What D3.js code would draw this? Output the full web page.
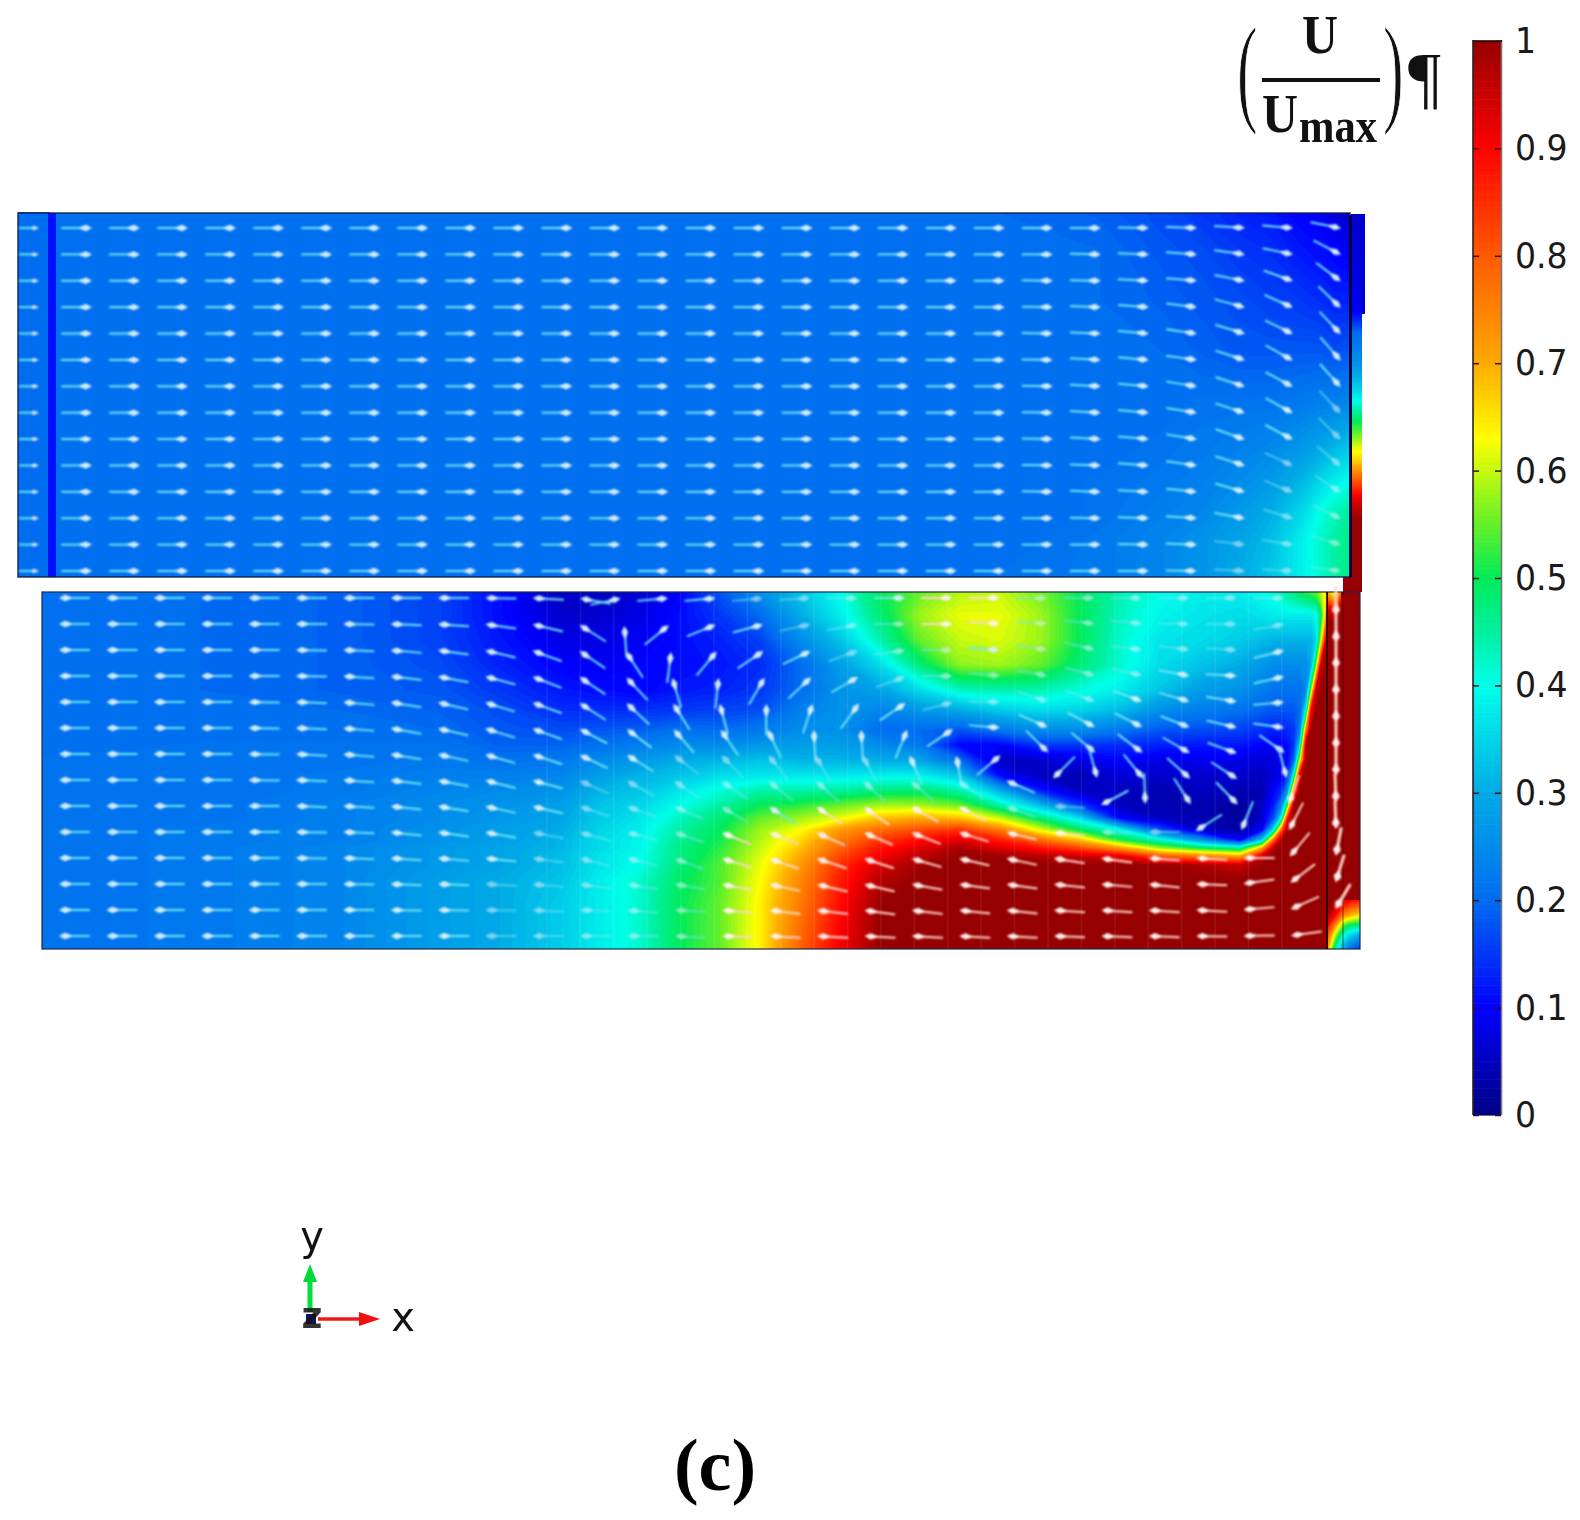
<!DOCTYPE html>
<html>
<head>
<meta charset="utf-8">
<script src="https://d3js.org/d3.v7.min.js"></script>
<style>
  body { margin: 0; background: #fff; }
  svg { display: block; }
</style>
</head>
<body>
<div id="chart"></div>
<script>
// colour legend
const legendStops = [0, 0.1, 0.2, 0.3, 0.4, 0.45, 0.5, 0.55, 0.63, 0.7, 0.8, 0.9, 1];
const legendColors = ["#000082", "#0000ff", "#006cf0", "#00aae6", "#00ffeb", "#00f0a0", "#00eb5a", "#64f028", "#ffff00", "#ffaa00", "#ff5a00", "#ff0000", "#960000"];
const legendTicks = [0, 0.1, 0.2, 0.3, 0.4, 0.5, 0.6, 0.7, 0.8, 0.9, 1];

// upper channel field, one array per column, in percent of Umax
const upperX = [56, 400, 800, 1000, 1100, 1160, 1200, 1240, 1270, 1300, 1320, 1335, 1350];
const upperY = [213, 250, 300, 350, 400, 440, 480, 510, 540, 577];
const upperField = [
  [20, 20, 20, 20, 20, 20, 20, 20, 20, 20],
  [20, 20, 20, 20, 20, 20, 20, 20, 20, 20],
  [20, 20, 20, 20, 20, 20, 20, 20, 20, 20],
  [20, 20, 20, 20, 20, 20, 20, 20, 20, 21],
  [19, 20, 20, 20, 20, 20, 21, 21, 22, 22],
  [17, 18, 19, 20, 20, 21, 22, 23, 24, 24],
  [15, 17, 18, 19, 21, 22, 23, 24, 26, 26],
  [13, 15, 17, 18, 21, 23, 25, 27, 29, 30],
  [12, 14, 16, 18, 21, 24, 27, 30, 32, 33],
  [10, 12, 15, 18, 22, 26, 31, 35, 38, 38],
  [9, 11, 14, 18, 23, 28, 35, 40, 42, 42],
  [7, 10, 13, 17, 23, 30, 38, 43, 45, 45],
  [5, 9, 13, 18, 24, 32, 40, 45, 47, 47]
];

// outlet strip on the right of the upper channel
const outletX = [1351, 1362];
const outletY = [215, 310, 333, 367, 393, 417, 440, 463, 483, 500, 520, 592];
const outletField = [
  [6, 9, 20, 27, 36, 48, 58, 68, 82, 93, 100, 100],
  [6, 9, 20, 27, 36, 48, 58, 68, 82, 93, 100, 100]
];

// lower channel field, one array per column
const lowerX = [42, 200, 340, 440, 500, 560, 600, 640, 680, 720, 760, 800, 840, 880, 920, 960, 1000, 1040, 1080, 1120, 1160, 1200, 1240, 1262, 1274, 1282, 1288, 1294, 1300, 1306, 1311, 1316, 1321, 1327];
const lowerY = [592, 615, 640, 665, 690, 710, 730, 745, 760, 775, 790, 805, 818, 830, 840, 848, 856, 865, 880, 905, 949];
const lowerField = [
  [20, 20, 20, 20, 20, 20, 20, 20, 21, 21, 21, 21, 21, 21, 21, 21, 21, 21, 21, 21, 21],
  [20, 20, 20, 20, 20, 20, 20, 21, 21, 21, 21, 21, 21, 22, 22, 22, 22, 22, 22, 22, 22],
  [19, 19, 19, 19, 19, 20, 20, 21, 21, 22, 22, 23, 23, 23, 23, 24, 24, 24, 24, 24, 24],
  [16, 16, 16, 17, 18, 19, 20, 21, 22, 23, 24, 25, 25, 26, 26, 27, 27, 27, 28, 28, 28],
  [11, 11, 12, 13, 15, 17, 18, 19, 21, 23, 25, 26, 27, 28, 28, 29, 29, 29, 30, 30, 30],
  [5, 6, 8, 10, 12, 14, 17, 19, 22, 24, 26, 28, 29, 30, 31, 31, 32, 32, 33, 34, 34],
  [5, 6, 8, 9, 11, 14, 18, 21, 25, 28, 31, 33, 34, 35, 36, 36, 37, 37, 38, 38, 38],
  [7, 8, 9, 10, 10, 14, 19, 23, 27, 31, 33, 35, 37, 38, 39, 39, 40, 40, 42, 42, 42],
  [10, 11, 11, 11, 12, 15, 21, 25, 30, 33, 37, 40, 43, 45, 46, 47, 47, 48, 49, 50, 50],
  [18, 15, 13, 12, 13, 16, 20, 25, 31, 36, 41, 45, 48, 50, 51, 52, 53, 54, 54, 55, 55],
  [26, 20, 16, 14, 15, 17, 22, 27, 33, 37, 44, 50, 55, 58, 59, 60, 61, 62, 63, 64, 64],
  [33, 30, 25, 20, 20, 23, 25, 28, 31, 37, 44, 52, 58, 63, 66, 68, 70, 72, 74, 76, 79],
  [40, 38, 33, 28, 26, 26, 26, 28, 31, 37, 45, 55, 62, 72, 76, 79, 82, 85, 87, 89, 91],
  [50, 48, 44, 36, 29, 24, 20, 25, 30, 38, 47, 58, 68, 78, 84, 88, 91, 94, 97, 100, 100],
  [55, 58, 55, 48, 36, 27, 20, 22, 29, 38, 48, 58, 70, 82, 89, 93, 96, 99, 100, 100, 100],
  [59, 62, 60, 57, 43, 30, 18, 10, 20, 33, 44, 55, 68, 85, 93, 98, 100, 100, 100, 100, 100],
  [60, 62, 61, 58, 44, 34, 22, 10, 5, 10, 30, 44, 60, 76, 87, 93, 99, 100, 100, 100, 100],
  [56, 58, 58, 55, 44, 36, 25, 15, 6, 5, 12, 32, 48, 62, 78, 88, 97, 100, 100, 100, 100],
  [50, 50, 50, 48, 41, 35, 25, 15, 8, 4, 5, 15, 36, 50, 68, 82, 95, 100, 100, 100, 100],
  [44, 43, 42, 42, 38, 32, 22, 14, 10, 7, 5, 5, 10, 40, 52, 72, 92, 100, 100, 100, 100],
  [40, 39, 37, 36, 33, 26, 18, 13, 8, 6, 4, 4, 5, 18, 42, 58, 80, 100, 100, 100, 100],
  [38, 37, 36, 33, 28, 23, 17, 12, 9, 6, 5, 4, 4, 6, 27, 50, 75, 98, 100, 100, 100],
  [38, 36, 34, 30, 26, 21, 16, 12, 8, 6, 4, 2, 2, 3, 10, 45, 70, 95, 100, 100, 100],
  [40, 37, 32, 27, 23, 19, 14, 10, 7, 5, 4, 5, 6, 10, 35, 70, 95, 100, 100, 100, 100],
  [42, 38, 31, 25, 21, 18, 13, 9, 7, 7, 10, 13, 18, 40, 80, 98, 100, 100, 100, 100, 100],
  [44, 38, 31, 25, 21, 18, 13, 10, 9, 10, 14, 25, 42, 82, 100, 100, 100, 100, 100, 100, 100],
  [46, 38, 31, 25, 21, 18, 14, 11, 11, 16, 28, 55, 90, 100, 100, 100, 100, 100, 100, 100, 100],
  [48, 38, 31, 25, 21, 18, 15, 15, 20, 42, 75, 100, 100, 100, 100, 100, 100, 100, 100, 100, 100],
  [50, 38, 31, 25, 21, 20, 24, 38, 62, 95, 100, 100, 100, 100, 100, 100, 100, 100, 100, 100, 100],
  [52, 38, 31, 25, 25, 40, 75, 98, 100, 100, 100, 100, 100, 100, 100, 100, 100, 100, 100, 100, 100],
  [54, 38, 31, 30, 55, 90, 100, 100, 100, 100, 100, 100, 100, 100, 100, 100, 100, 100, 100, 100, 100],
  [55, 40, 35, 55, 95, 100, 100, 100, 100, 100, 100, 100, 100, 100, 100, 100, 100, 100, 100, 100, 100],
  [60, 48, 60, 95, 100, 100, 100, 100, 100, 100, 100, 100, 100, 100, 100, 100, 100, 100, 100, 100, 100],
  [65, 75, 100, 100, 100, 100, 100, 100, 100, 100, 100, 100, 100, 100, 100, 100, 100, 100, 100, 100, 100]
];

// small patches in the lower right strip
const fanX = [1328, 1334, 1341];
const fanY = [592, 600, 610, 622];
const fanField = [
  [68, 80, 95, 100],
  [62, 72, 90, 100],
  [75, 88, 100, 100]
];
const cornerX = [1328, 1335, 1343, 1350, 1360];
const cornerY = [900, 915, 925, 935, 949];
const cornerField = [
  [100, 98, 90, 80, 70],
  [100, 90, 75, 60, 45],
  [95, 75, 55, 42, 30],
  [90, 70, 50, 35, 20],
  [88, 65, 48, 30, 15]
];

// arrow directions in degrees (0 = right, 90 = up), one array per column
// upper channel: the first 20 columns run flat, only the last 7 turn down
const upperFlatCols = 20;
const upperTurnCols = [
  [0, 0, -1, -1, -1, -1, -1, -1, -1, -1, -1, 0, 0, 0],
  [0, -1, -1, -2, -2, -3, -3, -3, -3, -2, -2, -1, 0, 0],
  [-1, -2, -3, -4, -5, -5, -5, -5, -5, -4, -3, -2, -1, 0],
  [-2, -4, -5, -7, -8, -8, -9, -9, -9, -8, -6, -4, -2, -1],
  [-4, -8, -11, -15, -17, -18, -18, -18, -19, -18, -16, -10, -7, -3],
  [-5, -12, -20, -24, -26, -29, -28, -29, -28, -25, -22, -17, -9, -3],
  [-11, -28, -37, -44, -47, -49, -48, -47, -45, -40, -33, -26, -17, -7]
];

// lower channel arrows
const lowerArrowCols = [
  [180, 180, 180, 180, 180, 180, 180, 180, 180, 180, 180, 180, 180, 180],
  [180, 180, 180, 180, 180, 180, 180, 180, 180, 180, 180, 180, 180, 180],
  [180, 180, 180, 180, 180, 180, 180, 180, 180, 180, 180, 180, 180, 180],
  [180, 180, 180, 180, 180, 180, 180, 180, 180, 180, 180, 180, 180, 180],
  [180, 180, 180, 180, 179, 179, 179, 179, 180, 180, 180, 180, 180, 180],
  [180, 180, 179, 179, 178, 178, 177, 178, 178, 179, 179, 180, 180, 180],
  [180, 179, 178, 176, 175, 175, 175, 176, 177, 178, 178, 179, 180, 180],
  [180, 178, 175, 173, 171, 170, 171, 173, 174, 174, 176, 178, 179, 180],
  [180, 176, 172, 169, 167, 167, 168, 169, 171, 172, 175, 178, 179, 180],
  [179, 172, 167, 165, 163, 163, 164, 166, 168, 170, 174, 177, 179, 180],
  [177, 167, 160, 159, 160, 160, 162, 165, 167, 169, 172, 175, 177, 180],
  [170, 148, 146, 146, 147, 152, 154, 156, 162, 165, 166, 172, 178, 180],
  [12, 94, 123, 133, 137, 143, 148, 151, 161, 166, 166, 171, 175, 180],
  [5, 39, 83, 106, 122, 131, 142, 146, 157, 162, 160, 171, 177, 177],
  [5, 22, 50, 84, 105, 124, 135, 145, 149, 158, 163, 169, 175, 178],
  [5, 15, 34, 60, 90, 115, 129, 141, 148, 159, 161, 168, 173, 177],
  [3, 12, 26, 43, 72, 93, 120, 138, 147, 156, 162, 167, 173, 177],
  [0, 11, 20, 30, 54, 93, 118, 137, 145, 157, 162, 167, 172, 177],
  [0, 0, 8, 20, 34, 68, 113, 139, 151, 159, 164, 170, 173, 177],
  [0, 0, 0, 0, 14, 34, 100, 145, 153, 163, 167, 172, 174, 177],
  [0, -4, -3, -5, -1, -5, 40, 157, 160, 167, 168, 172, 174, 177],
  [0, -4, -8, -10, -18, -24, -45, 225, 177, 173, 171, 174, 176, 178],
  [0, -6, -13, -15, -20, -28, -40, -75, 208, 178, 172, 175, 176, 178],
  [0, -6, -7, -13, -20, -27, -37, -51, -88, 180, 176, 174, 176, 178],
  [0, -1, -7, -10, -16, -21, -30, -42, -57, 212, 177, 178, 177, 179],
  [0, 0, -3, -3, -9, -13, -20, -33, -46, 248, 180, 188, 185, 181],
  [0, 10, 14, 13, 5, -8, -35, -75, 250, 243, 230, 217, 204, 188]
];

// arrows running down the narrow strip on the right
const stripArrows = [-90, -90, -90, -90, -90, -90, -90, -88, -88, -101, -107, -121];

const svg = d3.select("#chart")
  .append("svg")
  .attr("width", 1580)
  .attr("height", 1520);

const color = d3.scaleLinear()
  .domain(legendStops)
  .range(legendColors)
  .clamp(true);

const defs = svg.append("defs");
defs.append("filter").attr("id", "soft")
  .attr("x", "-5%").attr("y", "-5%").attr("width", "110%").attr("height", "110%")
  .append("feGaussianBlur").attr("stdDeviation", 0.8);

const thresholds = d3.range(0, 1.001, 1 / 120);

// shaded field, the grid can be uneven so the sharp fronts get more columns
function drawField(parent, xs, ys, cols) {
  const values = [];
  ys.forEach((y, j) => xs.forEach((x, i) => values.push(cols[i][j] / 100)));
  const px = d3.scaleLinear().domain(d3.range(xs.length)).range(xs).clamp(true);
  const py = d3.scaleLinear().domain(d3.range(ys.length)).range(ys).clamp(true);
  const path = d3.geoPath(d3.geoTransform({
    point: function(u, v) { this.stream.point(px(u - 0.5), py(v - 0.5)); }
  }));
  const bands = d3.contours()
    .size([xs.length, ys.length])
    .thresholds(thresholds)(values);
  parent.append("g")
    .selectAll("path")
    .data(bands)
    .join("path")
    .attr("d", path)
    .attr("fill", d => color(d.value + 1 / 240));
}

// look up the field under an arrow, decides the tint and how much it fades
function sample(xs, ys, field, x, y) {
  const i = Math.min(d3.bisectLeft(xs, x), xs.length - 1);
  const j = Math.min(d3.bisectLeft(ys, y), ys.length - 1);
  return field[i][j] / 100;
}

// upper channel
const upper = svg.append("g");
upper.append("rect").attr("x", 18).attr("y", 212).attr("width", 32).attr("height", 365).attr("fill", color(0.2));
upper.append("rect").attr("x", 48).attr("y", 213).attr("width", 9).attr("height", 364).attr("fill", color(0.115));
drawField(upper, upperX, upperY, upperField);
upper.append("rect").attr("x", 1351).attr("y", 214).attr("width", 14).attr("height", 100).attr("fill", color(0.06));
drawField(upper, outletX, outletY, outletField);
upper.append("rect").attr("x", 1343).attr("y", 577).attr("width", 17).attr("height", 16).attr("fill", color(1));
upper.append("rect").attr("x", 18).attr("y", 213).attr("width", 1332).attr("height", 364)
  .attr("fill", "none").attr("stroke", "#12204a").attr("stroke-width", 1.6).attr("stroke-opacity", 0.85);
upper.append("line").attr("x1", 1350.5).attr("x2", 1350.5).attr("y1", 215).attr("y2", 577)
  .attr("stroke", "#00003c").attr("stroke-width", 3);

// lower channel
const lower = svg.append("g");
drawField(lower, lowerX, lowerY, lowerField);
lower.append("rect").attr("x", 1327).attr("y", 592).attr("width", 33).attr("height", 357).attr("fill", color(1));
drawField(lower, fanX, fanY, fanField);
drawField(lower, cornerX, cornerY, cornerField);

// faint mesh seams in the lower channel
lower.append("g")
  .selectAll("line")
  .data(d3.range(547, 1300, 33.4))
  .join("line")
  .attr("x1", d => d).attr("x2", d => d)
  .attr("y1", 592).attr("y2", 949)
  .attr("stroke", "#fff").attr("stroke-opacity", 0.08).attr("stroke-width", 1.5);

lower.append("rect").attr("x", 42).attr("y", 592).attr("width", 1318).attr("height", 357)
  .attr("fill", "none").attr("stroke", "#1c2a48").attr("stroke-width", 1.6).attr("stroke-opacity", 0.75);
lower.append("line").attr("x1", 1327).attr("x2", 1327).attr("y1", 592).attr("y2", 949)
  .attr("stroke", "#200").attr("stroke-width", 1.6);
lower.append("line").attr("x1", 1343).attr("x2", 1343).attr("y1", 592).attr("y2", 949)
  .attr("stroke", "#400").attr("stroke-width", 1).attr("stroke-opacity", 0.6);

// arrows
const upperColX = d3.scaleLinear().domain([0, 26]).range([91, 1340]);
const upperRowY = d3.scaleLinear().domain([0, 13]).range([228, 571]);
const lowerColX = d3.scaleLinear().domain([0, 26]).range([60, 1292]);
const lowerRowY = d3.scaleLinear().domain([0, 13]).range([598, 936]);
const stripRowY = d3.scaleLinear().domain([0, 11]).range([615, 908]);

const arrowData = [];
d3.range(27).forEach(c => d3.range(14).forEach(r => {
  const turn = c >= upperFlatCols ? upperTurnCols[c - upperFlatCols][r] : 0;
  const x = upperColX(c), y = upperRowY(r);
  arrowData.push({ x: x, y: y, angle: turn, len: 30, value: sample(upperX, upperY, upperField, x - 15, y) });
}));
d3.range(14).forEach(r => {
  arrowData.push({ x: 38, y: upperRowY(r), angle: 0, len: 19, value: 0.2, small: true });
});
lowerArrowCols.forEach((col, c) => col.forEach((a, r) => {
  const rad = a * Math.PI / 180;
  const x = lowerColX(c) - 4.5 - 4.5 * Math.cos(rad);
  const y = lowerRowY(r) + 3 * Math.sin(rad);
  arrowData.push({ x: x, y: y, angle: a, len: 30, value: sample(lowerX, lowerY, lowerField, x, y) });
}));
stripArrows.forEach((a, k) => {
  arrowData.push({ x: 1336, y: stripRowY(k), angle: a, len: 28, value: 1, thick: true });
});

function arrowPath(d) {
  const w = d.small ? 2.2 : d.thick ? 4 : 3.2;
  const neck = d.small ? 4 : 5;
  const back = d.small ? 6 : 11;
  return `M1,0L${-neck},${-w}L${-back},${-1}L${-back},${1}L${-neck},${w}Z`;
}

const arrows = svg.append("g").attr("filter", "url(#soft)")
  .selectAll("g")
  .data(arrowData)
  .join("g")
  .attr("transform", d => `translate(${d.x},${d.y}) rotate(${-d.angle})`)
  .attr("opacity", d => (d.value > 0.29 && d.value < 0.58) ? 0.6 : 1);

arrows.append("line")
  .attr("x1", d => -d.len).attr("x2", -6)
  .attr("y1", 0).attr("y2", 0)
  .attr("stroke", d => d.value > 0.58 ? "#ffd8cc" : "#6fe6f4")
  .attr("stroke-width", d => d.thick ? 3 : 2);

arrows.append("path")
  .attr("d", arrowPath)
  .attr("fill", d => d.value > 0.58 ? "#fff0ec" : "#d2eefa");

// colour bar
const barY = d3.scaleLinear().domain([0, 1]).range([1115, 41]);
const bar = svg.append("g");
bar.selectAll("rect")
  .data(d3.range(0, 1, 1 / 240))
  .join("rect")
  .attr("x", 1473)
  .attr("width", 28)
  .attr("y", d => barY(d + 1 / 240))
  .attr("height", barY(0) - barY(1 / 240) + 0.6)
  .attr("fill", d => color(d + 1 / 480));
bar.append("line").attr("x1", 1473).attr("x2", 1473).attr("y1", 40).attr("y2", 1115)
  .attr("stroke", "#2a2020").attr("stroke-width", 1.6);
bar.append("line").attr("x1", 1501.5).attr("x2", 1501.5).attr("y1", 40).attr("y2", 1115)
  .attr("stroke", "#777").attr("stroke-width", 1.6);
bar.append("line").attr("x1", 1473).attr("x2", 1502).attr("y1", 41).attr("y2", 41)
  .attr("stroke", "#200").attr("stroke-width", 1.6);

const labelStretch = 0.92;
const barAxisRight = svg.append("g")
  .attr("transform", "translate(1501,0)")
  .call(d3.axisRight(barY).tickValues(legendTicks).tickSize(-6).tickPadding(14).tickFormat(d => String(d)));
barAxisRight.select(".domain").remove();
barAxisRight.selectAll("line").attr("stroke", "#311").attr("stroke-width", 1.5);
barAxisRight.selectAll("text")
  .attr("x", 14 / labelStretch)
  .attr("transform", `scale(${labelStretch},1)`)
  .attr("font-family", "DejaVu Sans")
  .attr("font-size", 36)
  .attr("fill", "#1a1a1a");

const barAxisLeft = svg.append("g")
  .attr("transform", "translate(1473,0)")
  .call(d3.axisLeft(barY).tickValues(legendTicks).tickSize(-6).tickFormat(""));
barAxisLeft.select(".domain").remove();
barAxisLeft.selectAll("line").attr("stroke", "#311").attr("stroke-width", 1.5);

// U / Umax heading, the brackets are stretched tall like a display formula
const heading = svg.append("g")
  .attr("font-family", "Liberation Serif")
  .attr("fill", "#111");
heading.append("text").attr("transform", "translate(1237,110) scale(1,1.95)").attr("font-size", 62)
  .attr("stroke", "#fff").attr("stroke-width", 0.7).text("(");
heading.append("text").attr("transform", "translate(1383,110) scale(1,1.95)").attr("font-size", 62)
  .attr("stroke", "#fff").attr("stroke-width", 0.7).text(")");
heading.append("text").attr("x", 1320).attr("y", 53).attr("text-anchor", "middle").attr("font-size", 55).attr("font-weight", "bold").attr("textLength", 36).attr("lengthAdjust", "spacingAndGlyphs").text("U");
heading.append("line").attr("x1", 1262).attr("x2", 1380).attr("y1", 80).attr("y2", 80).attr("stroke", "#111").attr("stroke-width", 4);
heading.append("text").attr("x", 1262).attr("y", 132).attr("font-size", 55).attr("font-weight", "bold").attr("textLength", 36).attr("lengthAdjust", "spacingAndGlyphs").text("U");
heading.append("text").attr("x", 1299).attr("y", 142).attr("font-size", 48).attr("font-weight", "bold").attr("textLength", 78).attr("lengthAdjust", "spacingAndGlyphs").text("max");
heading.append("text").attr("x", 1408).attr("y", 101).attr("font-size", 70).attr("textLength", 33).attr("lengthAdjust", "spacingAndGlyphs").text("¶");

// coordinate triad
const triad = svg.append("g");
triad.append("line").attr("x1", 310).attr("x2", 310).attr("y1", 1312).attr("y2", 1275).attr("stroke", "#00e040").attr("stroke-width", 5);
triad.append("path").attr("d", "M310,1264L303,1282L317,1282Z").attr("fill", "#00d83c");
triad.append("line").attr("x1", 318).attr("x2", 364).attr("y1", 1319).attr("y2", 1319).attr("stroke", "#f01818").attr("stroke-width", 3.5);
triad.append("path").attr("d", "M380,1319L359,1312L359,1326Z").attr("fill", "#f01010");
triad.append("rect").attr("x", 306).attr("y", 1314).attr("width", 10).attr("height", 10).attr("fill", "#10107a");
triad.append("text").attr("x", 312).attr("y", 1328).attr("text-anchor", "middle")
  .attr("font-family", "DejaVu Sans").attr("font-size", 36).attr("font-weight", "bold").attr("fill", "#111").attr("fill-opacity", 0.85).text("z");
triad.append("text").attr("x", 312).attr("y", 1250).attr("text-anchor", "middle")
  .attr("font-family", "DejaVu Sans").attr("font-size", 40).attr("fill", "#111").text("y");
triad.append("text").attr("x", 403).attr("y", 1331).attr("text-anchor", "middle")
  .attr("font-family", "DejaVu Sans").attr("font-size", 40).attr("fill", "#111").text("x");

// panel letter
svg.append("text")
  .attr("x", 715).attr("y", 1490).attr("text-anchor", "middle")
  .attr("font-family", "Liberation Serif").attr("font-size", 74).attr("font-weight", "bold")
  .attr("fill", "#000")
  .text("(c)");
</script>
</body>
</html>
